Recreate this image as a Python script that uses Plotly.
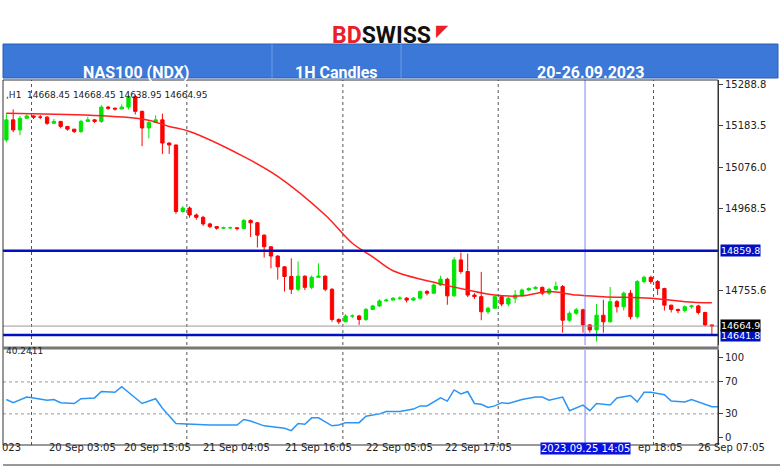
import plotly.graph_objects as go

# hourly NAS100 candles
closes = [15198, 15172, 15202, 15208, 15205, 15205, 15189, 15194, 15181, 15174,
          15168, 15194, 15198, 15194, 15231, 15228, 15226, 15231, 15258, 15220,
          15177, 15191, 15198, 15138, 15133, 14961, 14970, 14952, 14946, 14929,
          14922, 14918, 14919, 14919, 14917, 14938, 14932, 14900, 14870, 14846,
          14818, 14793, 14760, 14794, 14765, 14791, 14794, 14760, 14682, 14676,
          14691, 14691, 14682, 14708, 14717, 14730, 14732, 14737, 14737, 14732,
          14737, 14754, 14750, 14771, 14786, 14743, 14836, 14806, 14745, 14741,
          14702, 14711, 14741, 14722, 14737, 14745, 14758, 14762, 14765, 14750,
          14760, 14767, 14680, 14698, 14707, 14668, 14655, 14693, 14676, 14728,
          14715, 14750, 14689, 14780, 14791, 14780, 14762, 14719, 14708, 14705,
          14715, 14717, 14700, 14668, 14665]
opens = [15146] + closes[:-1]
highs = [15215, 15225, 15208, 15212, 15210, 15210, 15208, 15200, 15195, 15180,
         15172, 15198, 15206, 15200, 15236, 15234, 15230, 15238, 15262, 15262,
         15222, 15196, 15210, 15214, 15140, 15134, 14975, 14974, 14956, 14950,
         14932, 14922, 14922, 14922, 14920, 14942, 14941, 14934, 14902, 14872,
         14848, 14820, 14840, 14832, 14796, 14796, 14827, 14796, 14763, 14685,
         14696, 14695, 14694, 14712, 14720, 14734, 14736, 14740, 14742, 14740,
         14740, 14757, 14758, 14775, 14795, 14790, 14843, 14855, 14852, 14750,
         14805, 14715, 14744, 14742, 14740, 14758, 14762, 14765, 14768, 14767,
         14764, 14780, 14771, 14703, 14712, 14710, 14670, 14722, 14733, 14766,
         14732, 14754, 14758, 14784, 14795, 14795, 14784, 14764, 14720, 14710,
         14718, 14720, 14720, 14702, 14668]
lows = [15140, 15166, 15158, 15204, 15200, 15200, 15185, 15188, 15176, 15170,
        15164, 15164, 15194, 15190, 15190, 15224, 15222, 15226, 15225, 15212,
        15130, 15150, 15194, 15110, 15110, 14955, 14958, 14945, 14940, 14924,
        14918, 14914, 14916, 14916, 14912, 14915, 14895, 14868, 14842, 14814,
        14785, 14754, 14748, 14755, 14758, 14760, 14790, 14755, 14676, 14670,
        14686, 14686, 14668, 14678, 14706, 14714, 14728, 14734, 14732, 14726,
        14730, 14734, 14744, 14748, 14768, 14720, 14741, 14800, 14740, 14735,
        14680, 14696, 14736, 14716, 14716, 14724, 14740, 14756, 14760, 14745,
        14745, 14757, 14648, 14676, 14694, 14648, 14648, 14625, 14648, 14674,
        14700, 14705, 14682, 14684, 14775, 14774, 14745, 14705, 14700, 14698,
        14700, 14710, 14695, 14664, 14640]

# moving average, sampled along its curve
ma_x = [0, 20, 24, 27, 35, 40, 47, 51, 54, 57, 64, 68, 72, 76, 80, 84, 88, 95, 100, 104]
ma_y = [15215, 15200, 15181, 15168, 15103, 15052, 14952, 14879, 14844, 14808,
        14774, 14758, 14745, 14743, 14754, 14745, 14741, 14737, 14728, 14725]

# RSI panel
rsi_x = [0, 1, 3, 4, 6, 7, 8, 10, 11, 13, 14, 16, 17, 20, 22, 23, 25, 28, 30, 34,
         35, 36, 38, 41, 42, 43, 44, 45, 46, 48, 49, 50, 52, 53, 55, 56, 58, 60, 61, 62,
         64, 65, 66, 67, 68, 69, 70, 71, 72, 73, 74, 76, 78, 79, 80, 82, 83, 85, 86, 87,
         89, 90, 92, 93, 94, 95, 97, 98, 100, 101, 102, 104, 105]
rsi_y = [48, 44, 51, 50, 47, 48, 44, 43, 49, 50, 58, 57, 64, 43, 49, 37, 18, 17, 16, 16,
         23, 21, 15, 12, 9, 18, 17, 25, 25, 15, 16, 19, 19, 27, 30, 33, 33, 36, 40, 40,
         50, 46, 60, 55, 58, 43, 42, 38, 40, 44, 43, 48, 51, 51, 47, 51, 34, 41, 34, 43,
         41, 50, 53, 45, 57, 57, 54, 46, 45, 48, 45, 39, 39]

price_ticks = [15288.8, 15183.5, 15076.0, 14968.5, 14755.6]
levels = [14859.8, 14641.8]
last_price = 14664.9
grid_x = [3.7, 26.6, 49.6, 72.5, 95.4]
cursor_x = 85.3
time_labels = [("023", 11), ("20 Sep 03:05", 82), ("20 Sep 15:05", 157),
               ("21 Sep 04:05", 237), ("21 Sep 16:05", 318), ("22 Sep 05:05", 400),
               ("22 Sep 17:05", 478), ("ep 18:05", 660), ("26 Sep 07:05", 731)]

W, H = 780, 472


def py(p):
    return 1 - p / H


x_range = [-0.5, 104.9]
x_dom = [3 / W, 718 / W]

fig = go.Figure()
fig.add_trace(go.Candlestick(
    x=list(range(len(closes))), open=opens, high=highs, low=lows, close=closes,
    increasing=dict(line=dict(color="#00e600", width=1), fillcolor="#00e600"),
    decreasing=dict(line=dict(color="#ff0000", width=1), fillcolor="#ff0000"),
    whiskerwidth=0, yaxis="y", xaxis="x", showlegend=False))
fig.add_trace(go.Scatter(x=ma_x, y=ma_y, mode="lines", line=dict(color="#ff2020", width=1.5, shape="spline"),
                         xaxis="x", yaxis="y", showlegend=False, hoverinfo="skip"))
fig.add_trace(go.Scatter(x=rsi_x, y=rsi_y, mode="lines", line=dict(color="#2b95f5", width=1.5),
                         xaxis="x2", yaxis="y2", showlegend=False))

axis_common = dict(range=x_range, domain=x_dom, showgrid=False, zeroline=False, automargin=False,
                   showticklabels=False, rangeslider=dict(visible=False), fixedrange=True)
fig.update_layout(
    width=W, height=H, margin=dict(l=0, r=0, t=0, b=0, autoexpand=False),
    paper_bgcolor="white", plot_bgcolor="white",
    font=dict(family="DejaVu Sans", size=10, color="#222"),
    xaxis=dict(axis_common, anchor="y"),
    xaxis2=dict(axis_common, anchor="y2"),
    yaxis=dict(domain=[py(345), py(80)], range=[14616, 15301], side="right", automargin=False,
               tickvals=price_ticks, ticktext=[f"{v:.1f}" for v in price_ticks],
               ticks="outside", ticklen=4, showgrid=False, zeroline=False,
               showline=True, linecolor="#333", tickfont=dict(size=10)),
    yaxis2=dict(domain=[py(445), py(350)], range=[-9, 110], side="right", automargin=False,
                tickvals=[0, 30, 70, 100], ticks="outside", ticklen=4,
                showgrid=False, zeroline=False, showline=True, linecolor="#333",
                tickfont=dict(size=10)),
)

shapes = []
for gx in grid_x:
    for yr in ("y", "y2"):
        shapes.append(dict(type="line", xref="x", yref=f"{yr} domain", x0=gx, x1=gx, y0=0, y1=1,
                           line=dict(color="#555", width=1, dash="dot")))
for lv in [30, 70]:
    shapes.append(dict(type="line", xref="x domain", yref="y2", x0=0, x1=1, y0=lv, y1=lv,
                       line=dict(color="#999", width=1, dash="dot")))
for yr in ("y", "y2"):
    shapes.append(dict(type="line", xref="x", yref=f"{yr} domain", x0=cursor_x, x1=cursor_x, y0=0, y1=1,
                       line=dict(color="#8080ff", width=1)))
for lv in levels:
    shapes.append(dict(type="line", xref="x domain", yref="y", x0=0, x1=1, y0=lv, y1=lv,
                       line=dict(color="#0010c0", width=2.5)))
shapes.append(dict(type="line", xref="x domain", yref="y", x0=0, x1=1, y0=last_price, y1=last_price,
                   line=dict(color="#999", width=1)))
# panel frames and separators
shapes += [
    dict(type="rect", xref="paper", yref="paper", x0=3 / W, x1=718 / W, y0=py(445), y1=py(80),
         line=dict(color="#333", width=1)),
    dict(type="line", xref="paper", yref="paper", x0=3 / W, x1=718 / W, y0=py(348), y1=py(348),
         line=dict(color="#777", width=3)),
    dict(type="line", xref="paper", yref="paper", x0=3 / W, x1=1, y0=py(465), y1=py(465),
         line=dict(color="#333", width=1)),
    # header banner
    dict(type="rect", xref="paper", yref="paper", x0=3 / W, x1=778 / W, y0=py(78), y1=py(44),
         fillcolor="#3b78d8", line=dict(color="#2a5fb0", width=1)),
    dict(type="line", xref="paper", yref="paper", x0=272 / W, x1=272 / W, y0=py(78), y1=py(44),
         line=dict(color="#6d9be3", width=1)),
    dict(type="line", xref="paper", yref="paper", x0=401 / W, x1=401 / W, y0=py(78), y1=py(44),
         line=dict(color="#6d9be3", width=1)),
]
fig.update_layout(shapes=shapes)

ann = []
for txt, xpos in [("NAS100 (NDX)", 136), ("1H Candles", 336), ("20-26.09.2023", 590)]:
    ann.append(dict(text=f"<b>{txt}</b>", x=xpos / W, y=py(61), xref="paper", yref="paper",
                    xanchor="center", showarrow=False,
                    font=dict(color="white", size=16, family="Liberation Sans Narrow, Roboto")))
ann.append(dict(text="<b><span style='color:#e8202a'>BD</span>SWISS</b>", x=381 / W, y=py(20),
                xref="paper", yref="paper", xanchor="center", showarrow=False,
                font=dict(color="#111", size=23, family="Liberation Sans Narrow, Roboto")))
ann.append(dict(text="◤", x=442 / W, y=py(19), xref="paper", yref="paper", xanchor="center",
                showarrow=False, font=dict(color="#e8202a", size=16)))
ann.append(dict(text=",H1  14668.45 14668.45 14638.95 14664.95", x=4 / W, y=py(88), xref="paper",
                yref="paper", xanchor="left", showarrow=False, font=dict(size=9)))
ann.append(dict(text="40.2411", x=4 / W, y=py(358), xref="paper", yref="paper", xanchor="left",
                showarrow=False, font=dict(size=9)))
for lv in levels:
    ann.append(dict(text=f"{lv:.1f}", x=720 / W, y=lv, xref="paper", yref="y", xanchor="left",
                    showarrow=False, bgcolor="#0010c0", font=dict(color="white", size=9.5), borderpad=0))
ann.append(dict(text=f"{last_price:.1f}", x=720 / W, y=last_price + 1.5, xref="paper", yref="y",
                xanchor="left", showarrow=False, bgcolor="black", font=dict(color="white", size=9.5),
                borderpad=0))
for txt, xpos in time_labels:
    ann.append(dict(text=txt, x=xpos / W, y=py(455), xref="paper", yref="paper", xanchor="center",
                    showarrow=False, font=dict(size=10)))
ann.append(dict(text="2023.09.25 14:05", x=cursor_x, y=py(455), xref="x", yref="paper",
                xanchor="center", showarrow=False, bgcolor="#0a10e0", font=dict(color="white", size=10),
                borderpad=0))
fig.update_layout(annotations=ann)

fig.write_html("out.html", config={"displayModeBar": False},
               post_script="document.body.style.margin='0';")
